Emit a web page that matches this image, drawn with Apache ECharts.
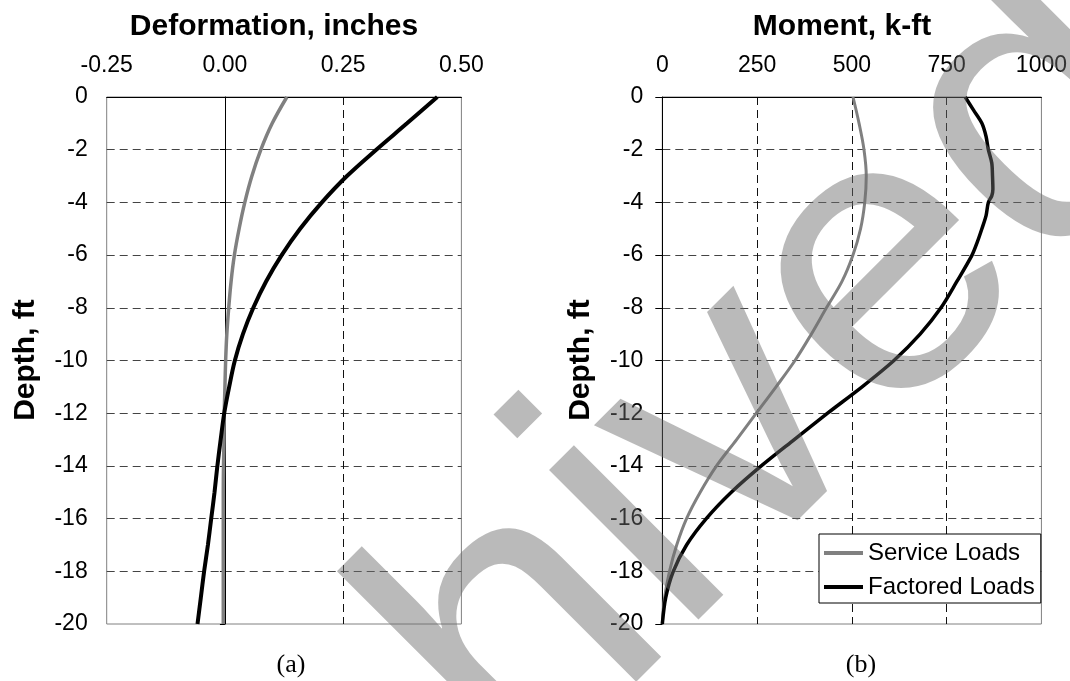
<!DOCTYPE html>
<html>
<head>
<meta charset="utf-8">
<script src="https://cdn.jsdelivr.net/npm/echarts@6/dist/echarts.min.js"></script>
<style>
  html, body { margin: 0; padding: 0; background: #fff; }
  #chart { width: 1070px; height: 681px; }
</style>
</head>
<body>
<div id="chart"></div>
<script>
// ---------- data ----------
const depths = [0,-1,-2,-3,-4,-5,-6,-7,-8,-9,-10,-11,-12,-13,-14,-15,-16,-17,-18,-19,-20];
const deformService  = [0.131,0.100,0.076,0.057,0.042,0.030,0.020,0.013,0.008,0.004,0.0015,0.000,-0.0015,-0.002,-0.003,-0.0035,-0.0035,-0.0035,-0.0035,-0.0035,-0.0035];
const deformFactored = [0.449,0.385,0.320,0.258,0.205,0.159,0.120,0.087,0.060,0.038,0.021,0.009,-0.0015,-0.009,-0.016,-0.022,-0.029,-0.036,-0.044,-0.051,-0.058];
const momentService  = [503,519,532,538,534,523,503,474,433,393,350,300,248,196,143,100,64,38,19,6,0];
const factoredDepths = [0,-0.5,-1,-1.5,-2,-2.5,-3,-3.5,-3.75,-4,-4.5,-5,-5.5,-6,-7,-8,-9,-10,-11,-12,-13,-14,-15,-16,-17,-18,-19,-20];
const momentFactored = [799,821,843,854,860,869,871,872,869,860,854,843,831,817,777,735,680,611,527,436,348,261,182,116,64,29,9,0];
const deformTicks = [-0.25, 0, 0.25, 0.5];
const momentTicks = [0, 250, 500, 750, 1000];
const depthTicks = [0,-2,-4,-6,-8,-10,-12,-14,-16,-18,-20];
const seriesNames = ['Service Loads', 'Factored Loads'];
const panelTitles = ['Deformation, inches', 'Moment, k-ft'];
const depthName = 'Depth, ft';
const panelLabels = ['(a)', '(b)'];
const watermark = 'Archived';

const pair = (xs, ys) => xs.map((x, i) => [x, ys[i]]);

const SANS = '"Liberation Sans", Arial, sans-serif';
const SERIF = '"Liberation Serif", "Times New Roman", serif';

const chart = echarts.init(document.getElementById('chart'), null, { renderer: 'canvas' });

const labelStyle = { color: '#000', fontSize: 23, fontFamily: SANS };
const hDash = { color: '#444', width: 1, type: [8, 5] };
const vDash = { color: '#111', width: 1, type: [8, 5] };

const option = {
  animation: false,
  backgroundColor: '#fff',
  grid: [
    { left: 106.7, top: 97, width: 354.7, height: 527, show: true, borderColor: '#808080', borderWidth: 1, containLabel: false },
    { left: 662.3, top: 97, width: 381, height: 527, show: true, borderColor: '#808080', borderWidth: 1, containLabel: false }
  ],
  xAxis: [
    {
      gridIndex: 0, type: 'value', position: 'top',
      min: deformTicks[0], max: deformTicks[deformTicks.length - 1], interval: 0.25,
      axisLine: { show: true, onZero: false, lineStyle: { color: '#000', width: 1 } },
      axisTick: { show: false },
      axisLabel: Object.assign({ margin: 20, formatter: v => v.toFixed(2) }, labelStyle),
      splitLine: { show: true, showMinLine: false, showMaxLine: false, lineStyle: vDash }
    },
    {
      gridIndex: 1, type: 'value', position: 'top',
      min: momentTicks[0], max: momentTicks[momentTicks.length - 1], interval: 250,
      axisLine: { show: true, onZero: false, lineStyle: { color: '#000', width: 1 } },
      axisTick: { show: false },
      axisLabel: Object.assign({ margin: 20, formatter: v => String(v) }, labelStyle),
      splitLine: { show: true, showMinLine: false, showMaxLine: false, lineStyle: vDash }
    }
  ],
  yAxis: [
    {
      gridIndex: 0, type: 'value', position: 'left',
      min: depthTicks[depthTicks.length - 1], max: depthTicks[0], interval: 2,
      axisLine: { show: false, onZero: false },
      axisTick: { show: false },
      axisLabel: Object.assign({ margin: 19 }, labelStyle),
      splitLine: { show: true, showMinLine: false, showMaxLine: false, lineStyle: hDash }
    },
    {
      gridIndex: 0, type: 'value', position: 'left',
      min: depthTicks[depthTicks.length - 1], max: depthTicks[0], interval: 2,
      axisLine: { show: true, onZero: true, onZeroAxisIndex: 0, lineStyle: { color: '#000', width: 1 } },
      axisTick: { show: true, length: 5, lineStyle: { color: '#000' } },
      axisLabel: { show: false },
      splitLine: { show: false }
    },
    {
      gridIndex: 1, type: 'value', position: 'left',
      min: depthTicks[depthTicks.length - 1], max: depthTicks[0], interval: 2,
      axisLine: { show: true, onZero: false, lineStyle: { color: '#000', width: 1 } },
      axisTick: { show: true, length: 7, lineStyle: { color: '#000' } },
      axisLabel: Object.assign({ margin: 19 }, labelStyle),
      splitLine: { show: true, showMinLine: false, showMaxLine: false, lineStyle: hDash }
    }
  ],
  legend: {
    show: true,
    data: seriesNames,
    orient: 'vertical',
    left: 819, top: 534,
    padding: [7, 6, 4, 5],
    itemGap: 10,
    itemWidth: 39, itemHeight: 4,
    icon: 'rect',
    backgroundColor: '#fff',
    borderColor: '#000', borderWidth: 1, borderRadius: 0,
    textStyle: { color: '#000', fontSize: 24, fontFamily: SANS },
    selectedMode: false,
    z: 20
  },
  series: [
    {
      type: 'line', xAxisIndex: 0, yAxisIndex: 0, name: 'defService',
      data: pair(deformService, depths), showSymbol: false, symbol: 'none',
      smooth: 0.35,
      lineStyle: { color: '#808080', width: 3.5 }, itemStyle: { color: '#808080' }, z: 3
    },
    {
      type: 'line', xAxisIndex: 0, yAxisIndex: 0, name: 'defFactored',
      data: pair(deformFactored, depths), showSymbol: false, symbol: 'none',
      smooth: 0.35,
      lineStyle: { color: '#000', width: 4 }, itemStyle: { color: '#000' }, z: 4
    },
    {
      type: 'line', xAxisIndex: 1, yAxisIndex: 2, name: seriesNames[0],
      data: pair(momentService, depths), showSymbol: false, symbol: 'none',
      smooth: 0.35,
      lineStyle: { color: '#808080', width: 3 }, itemStyle: { color: '#808080' }, z: 3
    },
    {
      type: 'line', xAxisIndex: 1, yAxisIndex: 2, name: seriesNames[1],
      data: pair(momentFactored, factoredDepths), showSymbol: false, symbol: 'none',
      smooth: 0.3,
      lineStyle: { color: '#000', width: 3.5 }, itemStyle: { color: '#000' }, z: 4
    }
  ],
  graphic: [
    { type: 'text', x: 274, y: 27, z: 10, style: { text: panelTitles[0], font: 'bold 30px ' + SANS, fill: '#000', textAlign: 'center', textVerticalAlign: 'middle' } },
    { type: 'text', x: 842, y: 27, z: 10, style: { text: panelTitles[1], font: 'bold 30px ' + SANS, fill: '#000', textAlign: 'center', textVerticalAlign: 'middle' } },
    { type: 'text', x: 26, y: 360, rotation: Math.PI / 2, z: 10, style: { text: depthName, font: 'bold 30px ' + SANS, fill: '#000', textAlign: 'center', textVerticalAlign: 'middle' } },
    { type: 'text', x: 581, y: 360, rotation: Math.PI / 2, z: 10, style: { text: depthName, font: 'bold 30px ' + SANS, fill: '#000', textAlign: 'center', textVerticalAlign: 'middle' } },
    { type: 'text', x: 291, y: 665, z: 10, style: { text: panelLabels[0], font: '26px ' + SERIF, fill: '#000', textAlign: 'center', textVerticalAlign: 'middle' } },
    { type: 'text', x: 861, y: 665, z: 10, style: { text: panelLabels[1], font: '26px ' + SERIF, fill: '#000', textAlign: 'center', textVerticalAlign: 'middle' } },
    { type: 'text', x: 20, y: 1142, rotation: Math.PI / 4, z: 100, silent: true,
      style: { text: watermark, font: '400px ' + SANS, fill: 'rgba(109,109,109,0.47)', textAlign: 'left', textVerticalAlign: 'middle' } }
  ]
};

chart.setOption(option);
</script>
</body>
</html>
